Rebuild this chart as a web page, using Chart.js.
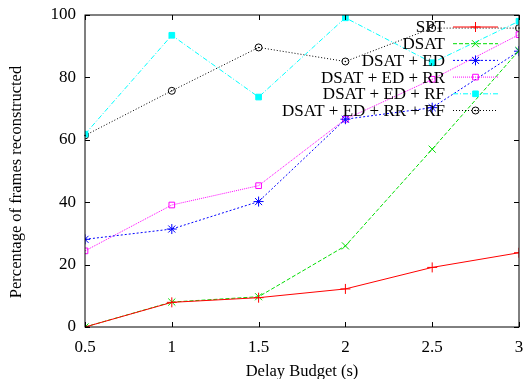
<!DOCTYPE html>
<html>
<head>
<meta charset="utf-8">
<script src="https://cdn.jsdelivr.net/npm/chart.js@4/dist/chart.umd.min.js"></script>
<style>
  html, body { margin: 0; padding: 0; background: #fff; }
  #wrap { width: 526px; height: 379px; }
</style>
</head>
<body>
<div id="wrap"><canvas id="chart"></canvas></div>
<script>
// delay budgets (s)
const budgets = [0.5, 1, 1.5, 2, 2.5, 3];
const xTicks = [0.5, 1, 1.5, 2, 2.5, 3];
const yTicks = [0, 20, 40, 60, 80, 100];

// percentage of frames reconstructed
const spt      = [0, 7.9, 9.4, 12.2, 19.1, 23.8];
const dsat     = [0, 8.0, 9.7, 26.0, 57.0, 88.6];
const dsatEd   = [28.1, 31.4, 40.2, 66.6, 70.3, 88.4];
const dsatEdRr = [24.4, 39.1, 45.3, 66.6, 79.4, 93.7];
const dsatEdRf = [61.8, 93.5, 73.7, 99.1, 84.7, 98.0];
const dsatAll  = [61.4, 75.7, 89.6, 85.1, 95.8, 95.8];

const labels = ['SPT', 'DSAT', 'DSAT + ED', 'DSAT + ED + RR', 'DSAT + ED + RF', 'DSAT + ED + RR + RF'];

const FONT = '"Liberation Serif", "Times New Roman", serif';
const NONE = 'rgba(0,0,0,0)';

function series(label, data, color, dash, marker, filled, r) {
  return {
    label: label,
    data: budgets.map((b, i) => ({ x: b, y: data[i] })),
    borderColor: color,
    backgroundColor: filled ? color : NONE,
    borderWidth: 1,
    borderDash: dash,
    pointStyle: marker,
    pointRadius: r,
    pointBorderWidth: 1,
    pointBorderColor: color,
    pointBackgroundColor: filled ? color : NONE,
    tension: 0
  };
}

const datasets = [
  series(labels[0], spt, '#ff0000', [], 'cross', false, 5),
  series(labels[1], dsat, '#00dd00', [4, 2], 'crossRot', false, 5),
  series(labels[2], dsatEd, '#0000ff', [2, 2], 'star', false, 5),
  series(labels[3], dsatEdRr, '#ff00ff', [1, 1], 'rect', false, 4),
  series(labels[4], dsatEdRf, '#00ffff', [5, 2, 1, 2], 'rect', true, 4),
  series(labels[5], dsatAll, '#000000', [1, 2], 'circle', false, 3.5)
];

// gnuplot style frame: box + inward ticks on all sides, axis titles, legend
const framePlugin = {
  id: 'frame',
  afterDatasetsDraw(chart) {
    const ctx = chart.ctx, a = chart.chartArea;
    const xs = chart.scales.x, ys = chart.scales.y;
    ctx.save();
    ctx.strokeStyle = '#000';
    ctx.lineWidth = 1;
    ctx.setLineDash([]);
    ctx.strokeRect(a.left, a.top, a.right - a.left, a.bottom - a.top);
    const t = 5;
    ctx.beginPath();
    xTicks.forEach(v => {
      const px = Math.round(xs.getPixelForValue(v)) + 0.5;
      ctx.moveTo(px, a.bottom); ctx.lineTo(px, a.bottom - t);
      ctx.moveTo(px, a.top); ctx.lineTo(px, a.top + t);
    });
    yTicks.forEach(v => {
      const py = Math.round(ys.getPixelForValue(v)) + 0.5;
      ctx.moveTo(a.left, py); ctx.lineTo(a.left + t, py);
      ctx.moveTo(a.right, py); ctx.lineTo(a.right - t, py);
    });
    ctx.stroke();

    // small dot inside circle markers
    ctx.fillStyle = '#000';
    chart.getDatasetMeta(5).data.forEach(p => {
      ctx.beginPath(); ctx.arc(p.x, p.y, 0.8, 0, Math.PI * 2); ctx.fill();
    });

    // axis titles
    ctx.font = '16.5px ' + FONT;
    ctx.textAlign = 'center';
    ctx.textBaseline = 'middle';
    ctx.fillStyle = '#000';
    ctx.fillText('Delay Budget (s)', (a.left + a.right) / 2, 371.5);
    ctx.save();
    ctx.translate(17, 182);
    ctx.rotate(-Math.PI / 2);
    ctx.fillText('Percentage of frames reconstructed', 0, 0);
    ctx.restore();

    // legend: text right aligned, then sample line with marker
    ctx.font = '17px ' + FONT;
    ctx.textAlign = 'right';
    ctx.textBaseline = 'middle';
    const textRight = 445, x0 = 453, x1 = 498, y0 = 27, dy = 16.7;
    chart.data.datasets.forEach((ds, i) => {
      const y = y0 + i * dy;
      const cx = (x0 + x1) / 2;
      ctx.fillStyle = '#000';
      ctx.fillText(ds.label, textRight, y + 1);
      ctx.strokeStyle = ds.borderColor;
      ctx.setLineDash(ds.borderDash);
      ctx.beginPath(); ctx.moveTo(x0, y); ctx.lineTo(x1, y); ctx.stroke();
      ctx.setLineDash([]);
      ctx.fillStyle = ds.pointBackgroundColor;
      Chart.helpers.drawPoint(ctx, {
        pointStyle: ds.pointStyle, radius: ds.pointRadius, borderWidth: 1
      }, cx, y);
      if (i === 5) {
        ctx.fillStyle = '#000';
        ctx.beginPath(); ctx.arc(cx, y, 0.8, 0, Math.PI * 2); ctx.fill();
      }
    });
    ctx.restore();
  }
};

new Chart(document.getElementById('chart'), {
  type: 'line',
  data: { datasets: datasets },
  options: {
    responsive: true,
    maintainAspectRatio: false,
    animation: false,
    layout: { padding: { top: 15, right: 7, left: 0, bottom: 0 } },
    plugins: { legend: { display: false }, tooltip: { enabled: false } },
    scales: {
      x: {
        type: 'linear', min: 0.5, max: 3,
        afterBuildTicks: s => { s.ticks = xTicks.map(v => ({ value: v })); },
        afterFit: s => { s.height = 52; s.paddingLeft = 0; s.paddingRight = 0; },
        grid: { display: false, drawTicks: false },
        border: { display: false },
        ticks: { color: '#000', font: { family: FONT, size: 17 }, padding: 10, maxRotation: 0,
                 callback: v => String(v) },
        title: { display: false }
      },
      y: {
        min: 0, max: 100,
        afterBuildTicks: s => { s.ticks = yTicks.map(v => ({ value: v })); },
        afterFit: s => { s.width = 85; s.paddingTop = 0; s.paddingBottom = 0; },
        grid: { display: false, drawTicks: false },
        border: { display: false },
        ticks: { color: '#000', font: { family: FONT, size: 17 }, padding: 9, callback: v => String(v) },
        title: { display: false }
      }
    }
  },
  plugins: [framePlugin]
});
</script>
</body>
</html>
